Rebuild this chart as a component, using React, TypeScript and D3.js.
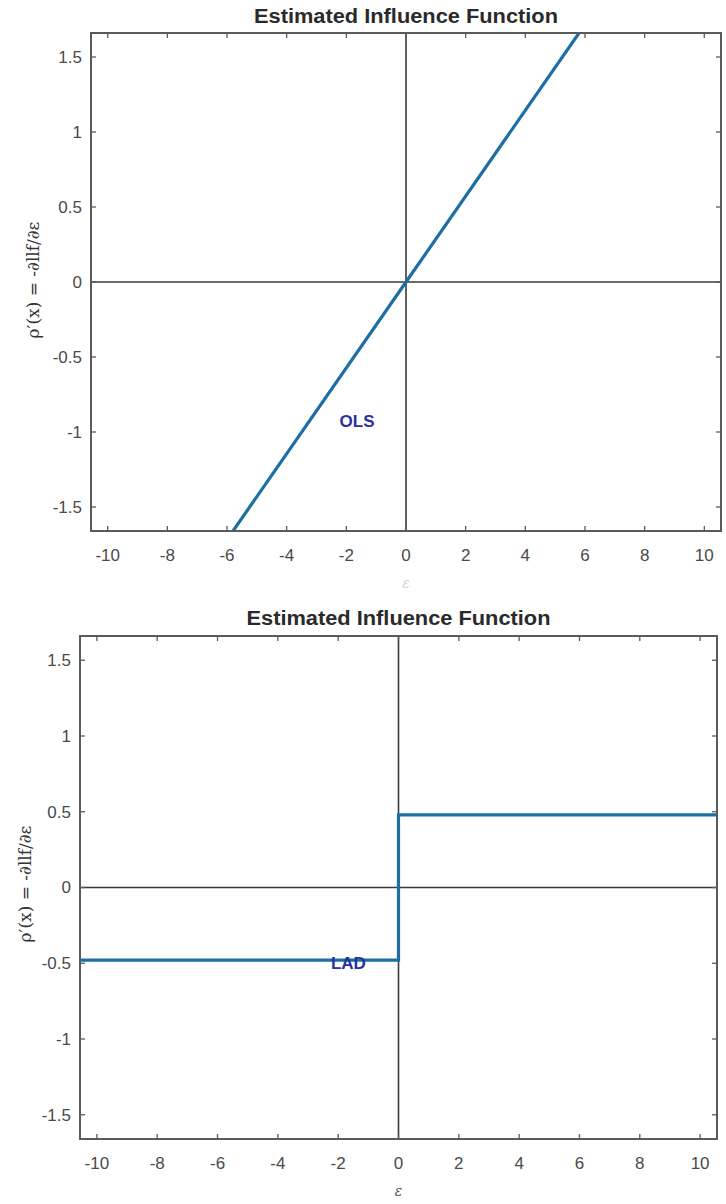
import React from "react";
import * as d3 from "d3";

const xTicks = [-10, -8, -6, -4, -2, 0, 2, 4, 6, 8, 10];
const yTicks = [-1.5, -1, -0.5, 0, 0.5, 1, 1.5];
const xDomain: [number, number] = [-10.56, 10.56];
const yDomain: [number, number] = [-1.66, 1.66];

const olsX = [-5.8, 0, 5.8];
const olsY = [-1.66, 0, 1.66];

const ladX = [-10.56, 0, 0, 10.56];
const ladY = [-0.48, -0.48, 0.48, 0.48];

const titleText = "Estimated Influence Function";
const yLabelText = "ρ′(x) = -∂llf/∂ε";

type PanelProps = {
  id: string;
  left: number;
  right: number;
  top: number;
  bottom: number;
  xs: number[];
  ys: number[];
  label: string;
  labelPos: [number, number];
  titleY: number;
  yLabelX: number;
  yLabelY: number;
  epsY: number;
  epsColor: string;
};

function Panel(p: PanelProps) {
  const x = d3.scaleLinear().domain(xDomain).range([p.left, p.right]);
  const y = d3.scaleLinear().domain(yDomain).range([p.bottom, p.top]);
  const pts = p.xs.map((v, i) => [v, p.ys[i]] as [number, number]);
  const line = d3
    .line<[number, number]>()
    .x((d) => x(d[0]))
    .y((d) => y(d[1]));
  const tick = 5;
  const axisColor = "#5a5a5a";
  const textColor = "#4a4a4a";
  const cx = (p.left + p.right) / 2;
  return (
    <g>
      <defs>
        <clipPath id={p.id}>
          <rect x={p.left} y={p.top} width={p.right - p.left} height={p.bottom - p.top} />
        </clipPath>
      </defs>
      <line x1={x(0)} x2={x(0)} y1={p.top} y2={p.bottom} stroke="#3a3a3a" strokeWidth={1.6} />
      <line x1={p.left} x2={p.right} y1={y(0)} y2={y(0)} stroke="#3a3a3a" strokeWidth={1.6} />
      <path
        d={line(pts) || ""}
        fill="none"
        stroke="#1c6ea4"
        strokeWidth={3.2}
        clipPath={`url(#${p.id})`}
      />
      <text
        x={x(p.labelPos[0])}
        y={y(p.labelPos[1])}
        dy="0.35em"
        textAnchor="middle"
        fontFamily="Liberation Sans, Arial, sans-serif"
        fontWeight="bold"
        fontSize={17}
        fill="#2b2fa0"
      >
        {p.label}
      </text>
      <rect
        x={p.left}
        y={p.top}
        width={p.right - p.left}
        height={p.bottom - p.top}
        fill="none"
        stroke={axisColor}
        strokeWidth={2}
      />
      {xTicks.map((t) => (
        <g key={"x" + t}>
          <line x1={x(t)} x2={x(t)} y1={p.bottom} y2={p.bottom - tick} stroke={axisColor} strokeWidth={1.3} />
          <line x1={x(t)} x2={x(t)} y1={p.top} y2={p.top + tick} stroke={axisColor} strokeWidth={1.3} />
          <text
            x={x(t)}
            y={p.bottom + 30}
            textAnchor="middle"
            fontFamily="Liberation Sans, Arial, sans-serif"
            fontSize={17}
            fill={textColor}
          >
            {t}
          </text>
        </g>
      ))}
      {yTicks.map((t) => (
        <g key={"y" + t}>
          <line x1={p.left} x2={p.left + tick} y1={y(t)} y2={y(t)} stroke={axisColor} strokeWidth={1.3} />
          <line x1={p.right} x2={p.right - tick} y1={y(t)} y2={y(t)} stroke={axisColor} strokeWidth={1.3} />
          <text
            x={p.left - 9}
            y={y(t)}
            dy="0.35em"
            textAnchor="end"
            fontFamily="Liberation Sans, Arial, sans-serif"
            fontSize={17}
            fill={textColor}
          >
            {t}
          </text>
        </g>
      ))}
      <text
        x={cx}
        y={p.titleY}
        textAnchor="middle"
        fontFamily="Liberation Sans, Arial, sans-serif"
        fontWeight="bold"
        fontSize={20}
        fill="#2a2a2a"
        textLength={304}
        lengthAdjust="spacingAndGlyphs"
      >
        {titleText}
      </text>
      <text
        transform={`translate(${p.yLabelX},${p.yLabelY}) rotate(-90)`}
        textAnchor="middle"
        dy="0.35em"
        fontFamily="DejaVu Serif, serif"
        fontSize={17}
        fill="#333"
      >
        {yLabelText}
      </text>
      <text
        x={x(0)}
        y={p.epsY}
        textAnchor="middle"
        fontFamily="DejaVu Serif, serif"
        fontStyle="italic"
        fontSize={14}
        fill={p.epsColor}
      >
        ε
      </text>
    </g>
  );
}

export default function App() {
  return (
    <svg
      width={726}
      height={1204}
      style={{ position: "absolute", left: 0, top: 0, background: "#fff" }}
    >
      <rect x={0} y={0} width={726} height={1204} fill="#fff" />
      <Panel
        id="c1"
        left={91}
        right={721}
        top={33}
        bottom={531}
        xs={olsX}
        ys={olsY}
        label="OLS"
        labelPos={[-1.64, -0.93]}
        titleY={23}
        yLabelX={33}
        yLabelY={280}
        epsY={588}
        epsColor="#d0d0d0"
      />
      <Panel
        id="c2"
        left={80}
        right={717}
        top={636}
        bottom={1139}
        xs={ladX}
        ys={ladY}
        label="LAD"
        labelPos={[-1.66, -0.5]}
        titleY={625}
        yLabelX={25}
        yLabelY={884}
        epsY={1196}
        epsColor="#555"
      />
    </svg>
  );
}
